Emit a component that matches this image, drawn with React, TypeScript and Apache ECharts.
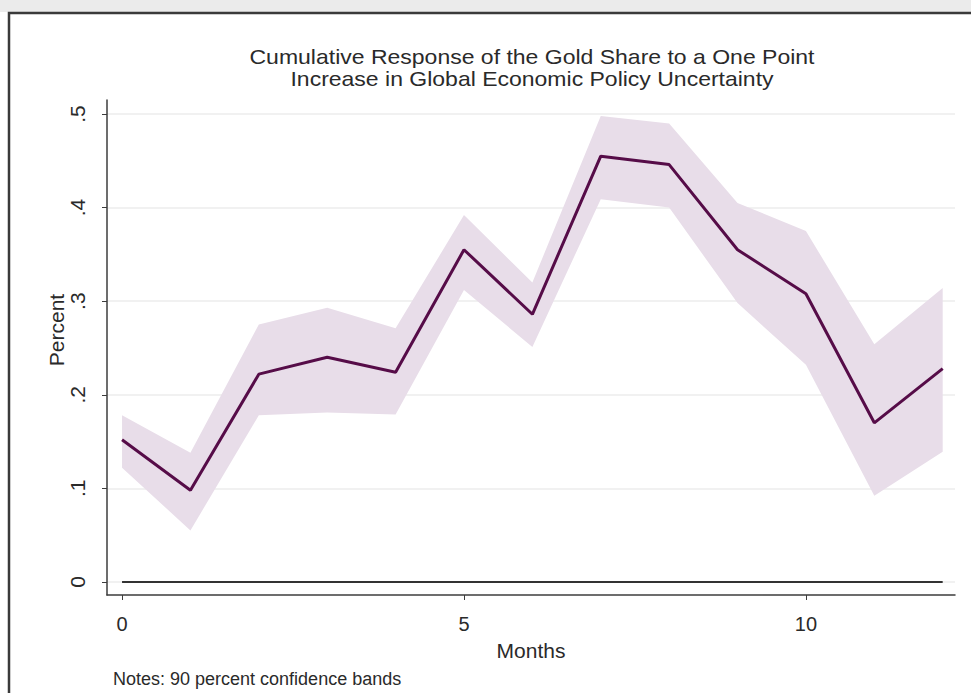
import React, { useEffect, useRef } from "react";
import * as echarts from "echarts";

const months = [0, 1, 2, 3, 4, 5, 6, 7, 8, 9, 10, 11, 12];
const response = [0.152, 0.098, 0.222, 0.240, 0.224, 0.355, 0.286, 0.455, 0.446, 0.355, 0.308, 0.170, 0.228];
const upperBand = [0.178, 0.138, 0.275, 0.293, 0.271, 0.392, 0.320, 0.498, 0.490, 0.405, 0.375, 0.254, 0.314];
const lowerBand = [0.122, 0.055, 0.178, 0.181, 0.179, 0.312, 0.251, 0.409, 0.400, 0.298, 0.232, 0.092, 0.139];
const yTicks = [0, 0.1, 0.2, 0.3, 0.4, 0.5];
const xTicks = [0, 5, 10];
const titleLines = [
  "Cumulative Response of the Gold Share to a One Point",
  "Increase in Global Economic Policy Uncertainty",
];
const xTitle = "Months";
const yTitle = "Percent";
const noteText = "Notes: 90 percent confidence bands";

const FONT = "'Liberation Sans', Arial, Helvetica, sans-serif";
const TXT = "#2a2a2a";
const AXIS = "#3c3c3c";

export default function App() {
  const ref = useRef<HTMLDivElement>(null);
  useEffect(() => {
    if (!ref.current) return;
    const chart = echarts.init(ref.current, undefined, { renderer: "svg" });
    const fmt = (v: number) => (v === 0 ? "0" : String(Math.round(v * 10) / 10).replace(/^0/, ""));
    chart.setOption({
      animation: false,
      backgroundColor: "#ffffff",
      grid: { left: 107, right: 16, top: 100, bottom: 98, containLabel: false },
      xAxis: {
        type: "value",
        min: -0.22,
        max: 12.18,
        axisLine: { show: true, onZero: false, lineStyle: { color: AXIS, width: 1.5 } },
        axisTick: { show: true, customValues: xTicks, length: 5, lineStyle: { color: AXIS } },
        axisLabel: { customValues: xTicks, fontSize: 20, color: TXT, fontFamily: FONT, margin: 19 },
        splitLine: { show: false },
      },
      yAxis: {
        type: "value",
        min: -0.014,
        max: 0.515,
        axisLine: { show: true, onZero: false, lineStyle: { color: AXIS, width: 1.5 } },
        axisTick: { show: true, customValues: yTicks, length: 5, lineStyle: { color: AXIS } },
        axisLabel: {
          customValues: yTicks,
          rotate: 90,
          fontSize: 21,
          color: TXT,
          fontFamily: FONT,
          margin: 19,
          formatter: fmt,
        },
        splitLine: { show: true, lineStyle: { color: "#ececec", width: 1.5 } },
      },
      series: [
        {
          type: "custom",
          silent: true,
          z: 1,
          data: months.map((m, i) => [m, lowerBand[i], upperBand[i]]),
          encode: { x: 0, y: [1, 2] },
          renderItem: (params: any, api: any) => {
            if (params.dataIndex !== 0) return null;
            const pts: number[][] = [];
            for (let i = 0; i < months.length; i++) pts.push(api.coord([months[i], upperBand[i]]));
            for (let i = months.length - 1; i >= 0; i--) pts.push(api.coord([months[i], lowerBand[i]]));
            return { type: "polygon", shape: { points: pts }, style: { fill: "#e8dde9", stroke: "none" } };
          },
        },
        {
          type: "line",
          z: 3,
          showSymbol: false,
          silent: true,
          data: months.map((m, i) => [m, response[i]]),
          lineStyle: { color: "#560c48", width: 3 },
          markLine: {
            silent: true,
            symbol: "none",
            label: { show: false },
            lineStyle: { color: "#333333", width: 2, type: "solid" },
            data: [[{ coord: [months[0], 0] }, { coord: [months[months.length - 1], 0] }]],
          },
        },
      ],
      graphic: [
        { type: "rect", z: -10, shape: { x: 0, y: 0, width: 971, height: 12 }, style: { fill: "#ebebeb" } },
        {
          type: "rect",
          z: 100,
          shape: { x: 9, y: 13, width: 980, height: 700 },
          style: { fill: "none", stroke: "#3a3a3a", lineWidth: 2.5 },
        },
        {
          type: "text",
          x: 532,
          y: 57,
          scaleX: 1.15,
          style: {
            text: titleLines[0],
            align: "center",
            verticalAlign: "middle",
            fontSize: 20,
            fontFamily: FONT,
            fill: TXT,
          },
        },
        {
          type: "text",
          x: 532,
          y: 79,
          scaleX: 1.15,
          style: {
            text: titleLines[1],
            align: "center",
            verticalAlign: "middle",
            fontSize: 20,
            fontFamily: FONT,
            fill: TXT,
          },
        },
        {
          type: "text",
          x: 531,
          y: 650,
          style: { text: xTitle, align: "center", verticalAlign: "middle", fontSize: 21, fontFamily: FONT, fill: TXT },
        },
        {
          type: "text",
          x: 56,
          y: 330,
          rotation: Math.PI / 2,
          style: { text: yTitle, align: "center", verticalAlign: "middle", fontSize: 21, fontFamily: FONT, fill: TXT },
        },
        {
          type: "text",
          x: 113,
          y: 679,
          style: { text: noteText, align: "left", verticalAlign: "middle", fontSize: 18, fontFamily: FONT, fill: TXT },
        },
      ],
    });
    return () => chart.dispose();
  }, []);
  return <div ref={ref} style={{ position: "fixed", left: 0, top: 0, width: 971, height: 693 }} />;
}
